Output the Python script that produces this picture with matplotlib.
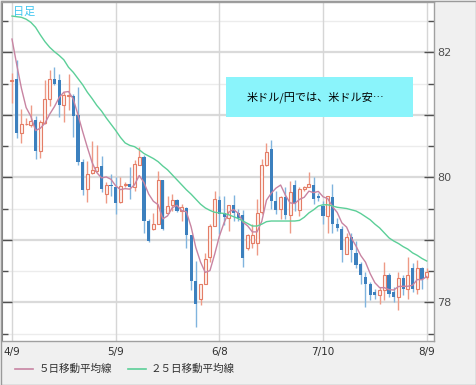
import numpy as np
import pandas as pd
import matplotlib
matplotlib.use("Agg")
import matplotlib.pyplot as plt
from matplotlib.patches import Rectangle
from matplotlib.lines import Line2D
from matplotlib.ticker import FixedLocator, FuncFormatter

plt.rcParams['font.family'] = ['Noto Sans CJK JP', 'DejaVu Sans']

# daily USD/JPY candles, 4/9 .. 8/9 (one per trading day)
opens = [81.54, 81.57, 80.71, 80.85, 80.84, 80.92, 80.42, 80.87, 81.26, 81.58,
         81.55, 81.15, 81.30, 81.30, 80.99, 80.24, 79.81, 80.07, 80.10, 80.18,
         79.74, 79.88, 79.85, 79.60, 79.88, 79.90, 79.85, 80.20, 80.33, 79.30,
         79.18, 79.26, 79.95, 79.43, 79.55, 79.63, 79.46, 79.51, 79.08, 78.34,
         78.06, 78.30, 78.72, 79.22, 79.64, 79.43, 79.35, 79.55, 79.43, 79.40,
         78.87, 78.95, 78.95, 79.45, 80.20, 80.46, 79.62, 79.49, 79.68, 79.40,
         79.87, 79.48, 79.81, 79.85, 79.88, 79.70, 79.54, 79.38, 79.68, 79.25,
         79.18, 78.77, 79.04, 78.79, 78.61, 78.41, 78.30, 78.16, 78.11, 78.20,
         78.44, 78.16, 78.09, 78.39, 78.22, 78.55, 78.22, 78.55, 78.40]
highs = [81.67, 81.87, 81.10, 80.95, 81.16, 80.98, 80.91, 81.55, 81.72, 81.77,
         81.66, 81.37, 81.66, 81.34, 81.45, 80.29, 80.26, 80.58, 80.52, 80.34,
         79.92, 80.06, 80.00, 80.01, 79.92, 80.16, 80.27, 80.48, 80.35, 79.33,
         79.43, 80.10, 79.96, 79.70, 79.73, 79.65, 79.57, 79.52, 79.08, 78.66,
         78.30, 78.79, 79.26, 79.78, 79.70, 79.70, 79.55, 79.72, 79.49, 79.47,
         79.09, 79.25, 79.65, 80.29, 80.55, 80.60, 79.78, 79.70, 79.84, 79.94,
         79.95, 79.84, 79.86, 80.08, 80.00, 79.75, 79.62, 79.70, 79.90, 79.35,
         79.22, 79.11, 79.11, 78.98, 78.65, 78.49, 78.33, 78.22, 78.25, 78.65,
         78.47, 78.25, 78.49, 78.44, 78.73, 78.63, 78.68, 78.57, 78.55]
lows = [81.19, 80.63, 80.55, 80.83, 80.81, 80.29, 80.31, 80.86, 81.14, 81.47,
        80.97, 80.89, 81.07, 80.64, 80.19, 79.72, 79.60, 80.05, 80.08, 79.77,
        79.59, 79.70, 79.41, 79.59, 79.84, 79.65, 79.78, 80.20, 79.11, 78.96,
        79.16, 79.25, 79.16, 79.43, 79.46, 79.45, 79.30, 78.87, 78.20, 77.60,
        77.95, 78.30, 78.65, 79.22, 79.10, 79.24, 79.14, 79.30, 79.30, 78.57,
        78.84, 78.87, 78.76, 79.42, 80.18, 79.49, 79.41, 79.33, 79.33, 79.11,
        79.46, 79.38, 79.78, 79.84, 79.57, 79.62, 79.25, 79.11, 79.11, 79.14,
        78.65, 78.77, 78.65, 78.55, 78.30, 77.93, 78.04, 78.06, 77.98, 78.04,
        78.09, 78.01, 77.87, 78.12, 78.06, 78.17, 78.14, 78.22, 78.37]
closes = [81.56, 80.71, 80.85, 80.86, 80.90, 80.42, 80.89, 81.26, 81.58, 81.50,
          81.15, 81.32, 81.31, 80.98, 80.24, 79.80, 80.05, 80.11, 80.17, 79.82,
          79.88, 79.86, 79.59, 79.86, 79.90, 79.84, 80.22, 80.32, 79.30, 78.98,
          79.26, 79.95, 79.18, 79.54, 79.63, 79.46, 79.53, 79.08, 78.34, 77.97,
          78.30, 78.70, 79.22, 79.65, 79.42, 79.37, 79.55, 79.43, 79.35, 78.71,
          79.07, 79.07, 79.43, 80.20, 80.40, 79.62, 79.48, 79.68, 79.40, 79.77,
          79.57, 79.81, 79.85, 79.89, 79.65, 79.67, 79.38, 79.70, 79.25, 79.19,
          78.83, 79.04, 78.84, 78.59, 78.44, 78.30, 78.12, 78.11, 78.20, 78.44,
          78.14, 78.09, 78.39, 78.22, 78.44, 78.22, 78.55, 78.37, 78.48]
# closes of the four days before 4/9 (feed the first 5-day average)
prior_closes = [82.75, 82.75, 82.40, 81.60]

# 25-day average
ma25 = [82.58, 82.57, 82.56, 82.53, 82.48, 82.40, 82.28, 82.17, 82.08, 82.01,
        81.95, 81.88, 81.76, 81.68, 81.58, 81.48, 81.36, 81.26, 81.15, 81.06,
        80.95, 80.85, 80.75, 80.64, 80.55, 80.51, 80.49, 80.44, 80.38, 80.34,
        80.30, 80.25, 80.18, 80.12, 80.04, 79.96, 79.88, 79.80, 79.73, 79.65,
        79.57, 79.51, 79.47, 79.44, 79.43, 79.42, 79.40, 79.37, 79.34, 79.30,
        79.26, 79.22, 79.22, 79.25, 79.29, 79.30, 79.30, 79.30, 79.30, 79.30,
        79.30, 79.31, 79.36, 79.43, 79.48, 79.54, 79.56, 79.56, 79.54, 79.52,
        79.51, 79.50, 79.48, 79.46, 79.42, 79.37, 79.32, 79.25, 79.19, 79.11,
        79.03, 78.98, 78.94, 78.89, 78.85, 78.79, 78.75, 78.70, 78.66]

date_pos = [0, 22, 44, 66, 88]
date_labels = ["4/9", "5/9", "6/8", "7/10", "8/9"]
note = "米ドル/円では、米ドル安…"

W, H = 477, 385
fig = plt.figure(figsize=(W / 100, H / 100), dpi=100)
fig.patch.set_facecolor('#f0f0f0')
ax = fig.add_axes([2 / W, 1 - 341 / H, 432 / W, 339 / H])
ax.set_facecolor('white')
ax.set_xlim(-2.12, 89.54)
ax.set_ylim(77.38, 82.805)

# grid
for v in np.arange(77.5, 83.0, 0.5):
    if abs(v - round(v)) < 1e-6:
        ax.axhline(v, color='#dadada', lw=1.6, zorder=0)
    else:
        ax.axhline(v, color='#ececec', lw=1.0, zorder=0)
for p in date_pos:
    ax.axvline(p, color='#d6d6d6', lw=1.0, zorder=0)

o = np.array(opens)
h = np.array(highs)
l = np.array(lows)
c = np.array(closes)
idx = np.arange(len(c))
up = c >= o

ax.vlines(idx[up], l[up], h[up], color='#ee9a86', lw=1.0, zorder=2)
ax.vlines(idx[~up], l[~up], h[~up], color='#80b4de', lw=1.0, zorder=2)
ax.bar(idx[up], (c - o)[up], bottom=o[up], width=0.64,
       facecolor='#fdf1ed', edgecolor='#e47d66', lw=0.8, zorder=3)
ax.bar(idx[~up], (o - c)[~up], bottom=c[~up], width=0.66,
       color='#3c80be', lw=0, zorder=3)

ma5 = pd.Series(prior_closes + closes).rolling(5).mean().values[len(prior_closes):]
ax.plot(idx, ma5, color='#c884a2', lw=1.0, zorder=4)
ax.plot(idx, ma25, color='#5ccf98', lw=1.0, zorder=4)

# axes cosmetics
ax.yaxis.set_major_locator(FixedLocator([78, 79, 80, 81, 82]))
ax.yaxis.set_minor_locator(FixedLocator([77.5, 78.5, 79.5, 80.5, 81.5, 82.5]))
ax.yaxis.set_major_formatter(FuncFormatter(lambda v, pos: f"{v:.0f}" if round(v) % 2 == 0 else ""))
ax.tick_params(axis='y', which='both', direction='in', left=True, right=True,
               labelleft=False, labelright=True, colors='#505050',
               labelsize=8, pad=2)
ax.tick_params(axis='y', which='major', length=7, width=1)
ax.tick_params(axis='y', which='minor', length=4, width=1)
for t in ax.get_yticklabels():
    t.set_family('DejaVu Sans')
ax.set_xticks(date_pos, date_labels)
ax.tick_params(axis='x', length=0, pad=4, labelsize=7.5, colors='#303030')
for t in ax.get_xticklabels():
    t.set_family('DejaVu Sans')
ax.spines['left'].set_color('#808080')
ax.spines['left'].set_linewidth(1.5)
for s in ['top', 'right', 'bottom']:
    ax.spines[s].set_color('#a0a0a0')
    ax.spines[s].set_linewidth(1.0)

# note box
fig.add_artist(Rectangle((226 / W, 1 - 117 / H), 187 / W, 40 / H,
                         transform=fig.transFigure, facecolor='#8af4fb',
                         edgecolor='none', zorder=5))
fig.text(316 / W, 1 - 97 / H, note, fontsize=8, color='black',
         ha='center', va='center', zorder=6)
fig.text(13 / W, 1 - 12 / H, "日足", fontsize=8, color='#3fc6f0',
         ha='left', va='center')

# legend
ly = 1 - 369 / H
fig.add_artist(Line2D([15 / W, 33 / W], [ly, ly], color='#c884a2', lw=1.2))
fig.text(39 / W, ly, "５日移動平均線", fontsize=7.6, color='#303030', va='center')
fig.add_artist(Line2D([128 / W, 146 / W], [ly, ly], color='#5ccf98', lw=1.2))
fig.text(151 / W, ly, "２５日移動平均線", fontsize=7.6, color='#303030', va='center')

# outer frame
fig.add_artist(Rectangle((0.5 / W, 0.5 / H), (W - 1) / W, (H - 1) / H,
                         transform=fig.transFigure, fill=False,
                         edgecolor='#9a9a9a', lw=1.0))

fig.savefig("out.png", dpi=100, facecolor=fig.get_facecolor())
